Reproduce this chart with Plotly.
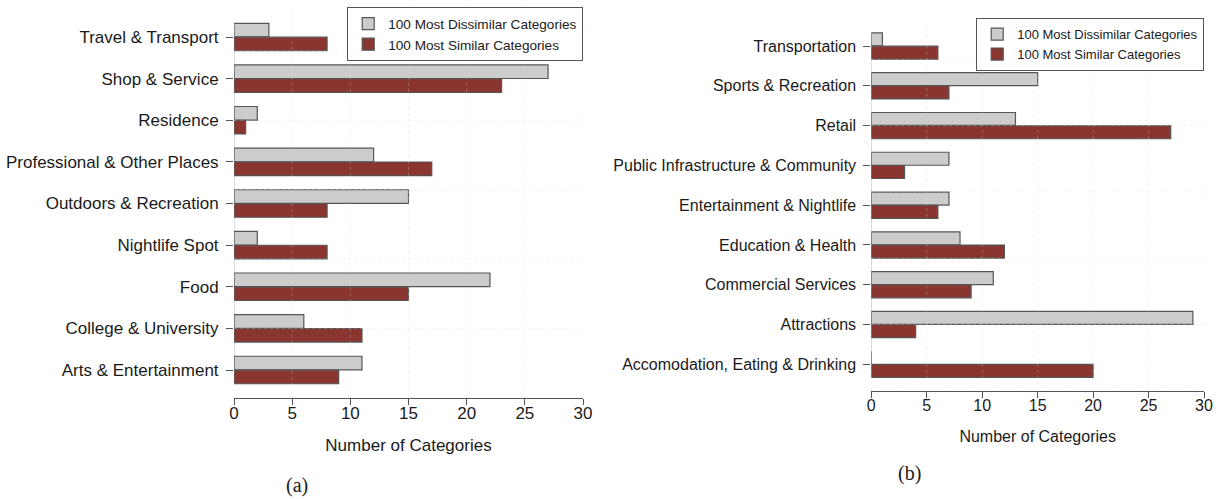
import numpy as np
import plotly.graph_objects as go

# ---------------- data ----------------
# panel (a), listed top to bottom as shown
cats_a = ["Travel & Transport", "Shop & Service", "Residence", "Professional & Other Places",
          "Outdoors & Recreation", "Nightlife Spot", "Food", "College & University",
          "Arts & Entertainment"]
dissim_a = [3, 27, 2, 12, 15, 2, 22, 6, 11]
sim_a = [8, 23, 1, 17, 8, 8, 15, 11, 9]

# panel (b), listed top to bottom as shown
cats_b = ["Transportation", "Sports & Recreation", "Retail", "Public Infrastructure & Community",
          "Entertainment & Nightlife", "Education & Health", "Commercial Services",
          "Attractions", "Accomodation, Eating & Drinking"]
dissim_b = [1, 15, 13, 7, 7, 8, 11, 29, 0]
sim_b = [6, 7, 27, 3, 6, 12, 9, 4, 20]

x_ticks = [0, 5, 10, 15, 20, 25, 30]
grid_y = [0, 5, 10, 15, 20, 25]
series_names = ["100 Most Dissimilar Categories", "100 Most Similar Categories"]
x_title = "Number of Categories"
panel_labels = ["(a)", "(b)"]

# ---------------- style ----------------
W, H = 1226, 499
GRAY = "#cccccc"
RED = "#8a352f"
EDGE = "#555555"
TXT = "#1a1a1a"
GRIDC = "#d6d6d6"
FONT = "Liberation Sans"

fig = go.Figure()


def positions(n):
    # R-style barplot layout: each group = 1 unit space + 2 bars (bottom to top)
    j = np.arange(n)[::-1]          # top category gets the highest index
    base = 3 * j
    return base + 1.5, base + 2.5, base + 2  # red centre, gray centre, tick position


panels = [
    dict(cats=cats_a, dis=dissim_a, sim=sim_a, xa="x", ya="y", leg="legend", ytop=28.3),
    dict(cats=cats_b, dis=dissim_b, sim=sim_b, xa="x2", ya="y2", leg="legend2", ytop=28.1),
]

for p in panels:
    n = len(p["cats"])
    yr, yg, yt = positions(n)
    p["yt"] = yt
    fig.add_trace(go.Bar(
        x=p["dis"], y=yg, orientation="h", width=0.98, name=series_names[0],
        marker=dict(color=GRAY, line=dict(color=EDGE, width=1.2)),
        xaxis=p["xa"], yaxis=p["ya"], legend=p["leg"], hoverinfo="x+name"))
    fig.add_trace(go.Bar(
        x=p["sim"], y=yr, orientation="h", width=0.98, name=series_names[1],
        marker=dict(color=RED, line=dict(color=EDGE, width=1.2)),
        xaxis=p["xa"], yaxis=p["ya"], legend=p["leg"], hoverinfo="x+name"))

    # dotted grid drawn over the bars
    for gx in x_ticks:
        fig.add_shape(type="line", x0=gx, x1=gx, y0=0, y1=p["ytop"], xref=p["xa"], yref=p["ya"],
                      line=dict(color=GRIDC, width=1, dash="dot"), layer="above")
    for gy in grid_y:
        fig.add_shape(type="line", x0=0, x1=max(x_ticks), y0=gy, y1=gy, xref=p["xa"], yref=p["ya"],
                      line=dict(color=GRIDC, width=1, dash="dot"), layer="above")
    # R-style y axis line between first and last tick
    fig.add_shape(type="line", x0=0, x1=0, y0=min(yt), y1=max(yt), xref=p["xa"], yref=p["ya"],
                  line=dict(color=EDGE, width=1.2), layer="above")

axis_common_x = dict(range=[0, 30], tickvals=x_ticks, ticks="outside", ticklen=6, tickcolor=EDGE,
                     showline=True, linecolor=EDGE, linewidth=1.2, showgrid=False, zeroline=False,
                     fixedrange=True, automargin=False, ticklabelstandoff=-6)
axis_common_y = dict(ticks="outside", ticklen=7, tickcolor=EDGE, showline=False, showgrid=False,
                     zeroline=False, fixedrange=True, ticklabelstandoff=4, automargin=False)

fig.update_layout(
    template="simple_white",
    width=W, height=H, autosize=False,
    margin=dict(l=0, r=0, t=0, b=0, pad=0),
    paper_bgcolor="white", plot_bgcolor="white",
    barmode="overlay",
    font=dict(family=FONT, color=TXT),
    xaxis=dict(axis_common_x, domain=[234 / W, 583 / W],
               tickfont=dict(size=17, color=TXT),
               title=dict(text=x_title, font=dict(size=17, color=TXT), standoff=16)),
    yaxis=dict(axis_common_y, domain=[1 - 397.75 / H, 1 - 5.1 / H], range=[0, 28.3],
               tickvals=list(panels[0]["yt"]), ticktext=cats_a,
               tickfont=dict(size=17, color=TXT)),
    xaxis2=dict(axis_common_x, domain=[871.3 / W, 1204 / W], anchor="y2",
                tickfont=dict(size=16, color=TXT),
                title=dict(text=x_title, font=dict(size=16, color=TXT), standoff=17)),
    yaxis2=dict(axis_common_y, domain=[1 - 390.8 / H, 1 - 18.2 / H], range=[0, 28.1], anchor="x2",
                tickvals=list(panels[1]["yt"]), ticktext=cats_b,
                tickfont=dict(size=16, color=TXT)),
    legend=dict(x=583 / W, xanchor="right", y=1 - 7 / H, yanchor="top",
                bgcolor="white", bordercolor=EDGE, borderwidth=1.2,
                font=dict(size=13.6, color=TXT), traceorder="normal", itemwidth=30,
                tracegroupgap=0),
    legend2=dict(x=1204 / W, xanchor="right", y=1 - 18 / H, yanchor="top",
                 bgcolor="white", bordercolor=EDGE, borderwidth=1.2,
                 font=dict(size=13.0, color=TXT), traceorder="normal", itemwidth=30,
                 tracegroupgap=0),
    showlegend=True,
)

# panel captions
fig.add_annotation(text=panel_labels[0], x=297 / W, y=1 - 485 / H, xref="paper", yref="paper",
                   xanchor="center", yanchor="middle", showarrow=False,
                   font=dict(family="Liberation Serif", size=20, color=TXT))
fig.add_annotation(text=panel_labels[1], x=910 / W, y=1 - 473 / H, xref="paper", yref="paper",
                   xanchor="center", yanchor="middle", showarrow=False,
                   font=dict(family="Liberation Serif", size=20, color=TXT))

fig.write_html("out.html", config={"displayModeBar": False},
               post_script="document.body.style.margin='0';document.body.style.overflow='hidden';")
